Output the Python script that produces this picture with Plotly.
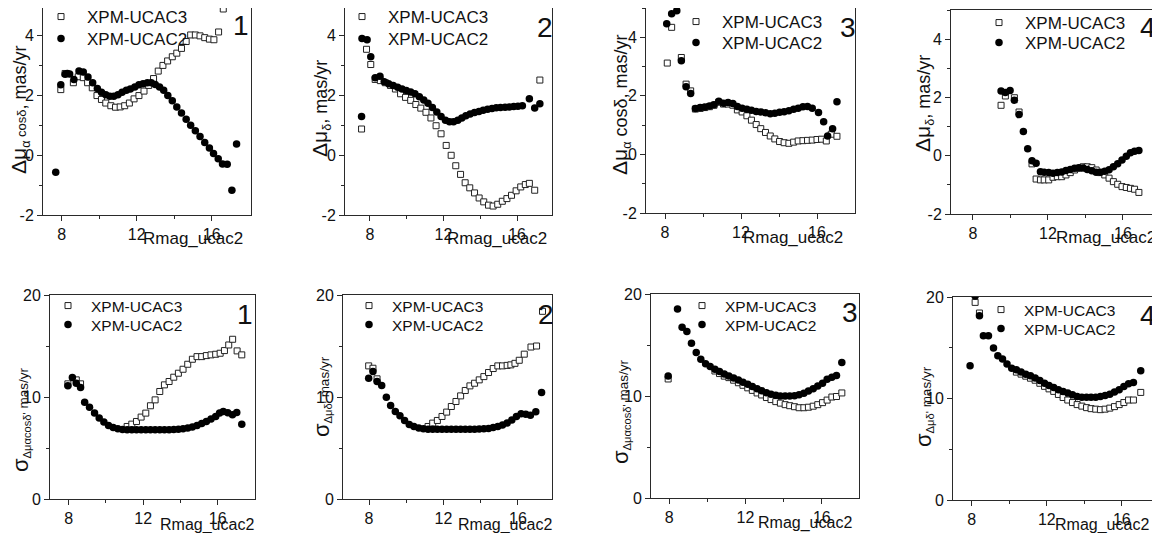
import plotly.graph_objects as go

W, H = 1160, 533          # size of the reference picture
OFF = 8                   # page margin around the plot div
FW, FH = W - OFF, H - OFF # figure size so that everything lands on the reference pixels
FONT = "Liberation Sans, Arial, sans-serif"

# ---------------- data ----------------
# panel 1: delta mu_alpha cos(delta)
p1_ucac3_x = [7.95, 8.18, 8.62, 8.88, 9.15, 9.38, 9.63, 9.88, 10.12, 10.35, 10.62, 10.87, 11.12, 11.36, 11.61,
              11.86, 12.12, 12.39, 12.64, 12.9, 13.15, 13.4, 13.65, 13.9, 14.14, 14.39, 14.64, 14.88, 15.13,
              15.38, 15.63, 15.88, 16.12, 16.37, 16.62]
p1_ucac3_y = [2.2, 2.74, 2.43, 2.63, 2.6, 2.43, 2.26, 2.0, 1.87, 1.75, 1.66, 1.61, 1.62, 1.66, 1.75,
              1.89, 2.0, 2.15, 2.34, 2.57, 2.82, 3.01, 3.16, 3.3, 3.42, 3.58, 3.81, 4.03, 4.03,
              4.0, 3.94, 3.89, 3.87, 4.13, 4.9]
p1_ucac2_x = [7.68, 7.95, 8.18, 8.3, 8.42, 8.65, 8.92, 9.15, 9.4, 9.65, 9.9, 10.12, 10.35, 10.57, 10.78,
              11.0, 11.22, 11.45, 11.66, 11.9, 12.12, 12.34, 12.57, 12.78, 12.99, 13.22, 13.44, 13.66, 13.9,
              14.14, 14.39, 14.64, 14.88, 15.13, 15.38, 15.63, 15.88, 16.1, 16.35, 16.58, 16.83, 17.08, 17.33]
p1_ucac2_y = [-0.57, 2.36, 2.71, 2.74, 2.72, 2.54, 2.82, 2.79, 2.62, 2.43, 2.24, 2.11, 2.03, 1.98, 1.98,
              2.03, 2.11, 2.18, 2.22, 2.29, 2.36, 2.4, 2.43, 2.43, 2.37, 2.29, 2.18, 2.0, 1.83,
              1.62, 1.42, 1.21, 1.01, 0.82, 0.63, 0.43, 0.24, 0.06, -0.12, -0.29, -0.3, -1.17, 0.38]

# panel 2: delta mu_delta
p2_ucac3_x = [7.55, 7.82, 8.05, 8.29, 8.57, 8.84, 9.12, 9.39, 9.67, 9.94, 10.22, 10.5, 10.77, 11.05, 11.32,
              11.6, 11.87, 12.15, 12.42, 12.67, 12.93, 13.18, 13.43, 13.69, 13.94, 14.19, 14.45, 14.7, 14.95,
              15.2, 15.45, 15.7, 15.95, 16.2, 16.45, 16.67, 16.96, 17.24]
p2_ucac3_y = [0.88, 3.55, 3.04, 2.54, 2.5, 2.43, 2.34, 2.22, 2.06, 1.94, 1.84, 1.7, 1.58, 1.44, 1.25,
              0.99, 0.72, 0.33, 0.0, -0.35, -0.64, -0.92, -1.09, -1.26, -1.43, -1.56, -1.67, -1.7, -1.64,
              -1.54, -1.45, -1.34, -1.19, -1.06, -0.98, -0.94, -1.17, 2.52]
p2_ucac2_x = [7.55, 7.85, 8.05, 8.29, 8.55, 8.78, 9.02, 9.27, 9.51, 9.75, 9.98, 10.22, 10.45, 10.69, 10.93,
              11.16, 11.4, 11.64, 11.87, 12.11, 12.33, 12.55, 12.78, 13.0, 13.22, 13.45, 13.69, 13.93, 14.16,
              14.4, 14.64, 14.87, 15.1, 15.35, 15.58, 15.82, 16.05, 16.29, 16.67, 16.96, 17.24]
p2_ucac2_y = [1.3, 3.87, 3.3, 2.6, 2.65, 2.46, 2.4, 2.34, 2.28, 2.22, 2.17, 2.12, 2.06, 1.96, 1.85,
              1.74, 1.6, 1.45, 1.3, 1.17, 1.12, 1.12, 1.17, 1.25, 1.32, 1.38, 1.43, 1.47, 1.51,
              1.54, 1.57, 1.59, 1.6, 1.61, 1.62, 1.63, 1.64, 1.66, 1.89, 1.58, 1.73]

# panel 3: delta mu_alpha cos(delta)
p3_ucac3_x = [8.12, 8.35, 8.86, 9.11, 9.35, 9.6, 9.85, 10.09, 10.34, 10.58, 10.83, 11.08, 11.32, 11.57, 11.81,
              12.06, 12.31, 12.55, 12.8, 13.04, 13.29, 13.54, 13.78, 14.03, 14.27, 14.52, 14.77, 15.01, 15.26,
              15.5, 15.75, 16.0, 16.24, 16.49, 16.75, 17.05]
p3_ucac3_y = [3.12, 4.34, 3.31, 2.4, 2.17, 1.55, 1.57, 1.6, 1.63, 1.68, 1.78, 1.72, 1.72, 1.68, 1.52,
              1.45, 1.32, 1.17, 1.02, 0.88, 0.75, 0.63, 0.53, 0.44, 0.4, 0.38, 0.42, 0.46, 0.47,
              0.48, 0.49, 0.51, 0.52, 0.46, 0.69, 0.62]
p3_ucac2_x = [8.09, 8.35, 8.62, 8.86, 9.11, 9.35, 9.6, 9.85, 10.09, 10.34, 10.58, 10.83, 11.08, 11.32, 11.57,
              11.81, 12.06, 12.31, 12.55, 12.8, 13.04, 13.29, 13.54, 13.78, 14.03, 14.27, 14.52, 14.77, 15.01,
              15.26, 15.5, 15.75, 16.08, 16.35, 16.56, 16.82, 17.05]
p3_ucac2_y = [4.46, 4.8, 4.91, 3.2, 2.31, 2.08, 1.57, 1.6, 1.62, 1.65, 1.7, 1.82, 1.75, 1.77, 1.74,
              1.64, 1.58, 1.54, 1.51, 1.47, 1.45, 1.42, 1.39, 1.41, 1.44, 1.46, 1.49, 1.54, 1.58,
              1.63, 1.64, 1.58, 1.43, 1.12, 0.63, 0.88, 1.8]

# panel 4: delta mu_delta
p4_ucac3_x = [9.5, 9.73, 10.21, 10.46, 11.15, 11.37, 11.6, 11.8, 12.04, 12.27, 12.5, 12.73, 12.96, 13.19, 13.42,
              13.65, 13.88, 14.1, 14.34, 14.57, 14.8, 15.03, 15.26, 15.49, 15.72, 15.95, 16.18, 16.4, 16.62, 16.85]
p4_ucac3_y = [1.73, 2.05, 1.99, 1.5, -0.28, -0.8, -0.83, -0.83, -0.83, -0.74, -0.72, -0.72, -0.66, -0.58, -0.49,
              -0.43, -0.38, -0.38, -0.41, -0.49, -0.58, -0.66, -0.77, -0.89, -0.98, -1.06, -1.09, -1.12, -1.15, -1.26]
p4_ucac2_x = [9.5, 9.73, 9.98, 10.21, 10.46, 10.69, 10.92, 11.15, 11.37, 11.6, 11.8, 12.04, 12.27, 12.5, 12.73,
              12.96, 13.19, 13.42, 13.65, 13.88, 14.1, 14.34, 14.57, 14.8, 15.03, 15.26, 15.49, 15.72, 15.95,
              16.18, 16.4, 16.62, 16.85]
p4_ucac2_y = [2.22, 2.17, 2.24, 1.9, 1.41, 0.83, 0.24, -0.17, -0.26, -0.55, -0.57, -0.58, -0.6, -0.58, -0.56,
              -0.51, -0.47, -0.43, -0.41, -0.42, -0.47, -0.52, -0.57, -0.57, -0.53, -0.48, -0.38, -0.28, -0.15,
              -0.02, 0.1, 0.15, 0.18]

# panel 5: sigma of delta mu_alpha cos(delta)
p5_ucac3_x = [7.96, 8.41, 8.64, 11.14, 11.39, 11.64, 11.89, 12.14, 12.39, 12.64, 12.89, 13.14, 13.39, 13.64,
              13.89, 14.14, 14.39, 14.64, 14.89, 15.14, 15.39, 15.64, 15.89, 16.13, 16.36, 16.59, 16.8, 17.04, 17.29]
p5_ucac3_y = [11.29, 11.68, 11.29, 7.11, 7.34, 7.6, 8.03, 8.42, 9.14, 9.72, 10.54, 11.19, 11.52, 11.94,
              12.33, 12.72, 13.21, 13.7, 13.96, 13.96, 14.06, 14.13, 14.19, 14.29, 14.55, 15.1, 15.66, 14.52, 14.13]
p5_ucac2_x = [7.96, 8.2, 8.41, 8.64, 8.86, 9.12, 9.39, 9.64, 9.89, 10.14, 10.39, 10.64, 10.89, 11.14, 11.39,
              11.64, 11.89, 12.14, 12.39, 12.64, 12.89, 13.14, 13.39, 13.64, 13.89, 14.14, 14.39, 14.64, 14.89,
              15.14, 15.39, 15.64, 15.89, 16.1, 16.3, 16.54, 16.79, 17.02, 17.29]
p5_ucac2_y = [11.1, 11.9, 11.35, 10.93, 9.49, 9.0, 8.42, 7.93, 7.54, 7.21, 7.01, 6.88, 6.82, 6.79, 6.78,
              6.78, 6.78, 6.78, 6.78, 6.78, 6.78, 6.79, 6.8, 6.82, 6.85, 6.88, 6.95, 7.05, 7.2,
              7.4, 7.6, 7.85, 8.1, 8.42, 8.58, 8.45, 8.25, 8.48, 7.34]

# panel 6: sigma of delta mu_delta
p6_ucac3_x = [7.98, 8.21, 8.43, 11.17, 11.42, 11.67, 11.92, 12.17, 12.42, 12.67, 12.92, 13.17, 13.42, 13.67,
              13.92, 14.17, 14.42, 14.67, 14.92, 15.17, 15.42, 15.62, 15.84, 16.07, 16.34, 16.7, 17.0, 17.32]
p6_ucac3_y = [13.05, 12.82, 11.78, 7.11, 7.44, 7.7, 8.09, 8.52, 9.07, 9.56, 10.11, 10.64, 11.09, 11.35,
              11.68, 12.0, 12.4, 12.79, 13.05, 13.05, 13.1, 13.15, 13.3, 13.6, 14.2, 14.9, 15.0, 18.4]
p6_ucac2_x = [7.98, 8.21, 8.43, 8.68, 8.93, 9.16, 9.41, 9.66, 9.91, 10.16, 10.41, 10.67, 10.92, 11.17, 11.42,
              11.67, 11.92, 12.17, 12.42, 12.67, 12.92, 13.17, 13.42, 13.67, 13.92, 14.17, 14.42, 14.67, 14.92,
              15.17, 15.42, 15.67, 15.92, 16.17, 16.42, 16.67, 16.96, 17.27]
p6_ucac2_y = [11.84, 12.5, 11.52, 11.13, 9.98, 9.17, 8.58, 8.16, 7.7, 7.31, 7.11, 6.95, 6.88, 6.85, 6.85,
              6.85, 6.85, 6.85, 6.85, 6.85, 6.85, 6.85, 6.85, 6.85, 6.86, 6.88, 6.92, 7.0, 7.1,
              7.25, 7.45, 7.75, 8.1, 8.35, 8.3, 8.2, 8.55, 10.45]

# panel 7: sigma of delta mu_alpha cos(delta)
p7_ucac3_x = [7.95, 10.4, 10.64, 10.89, 11.13, 11.38, 11.63, 11.87, 12.12, 12.36, 12.61, 12.85, 13.1, 13.34,
              13.59, 13.83, 14.08, 14.32, 14.57, 14.81, 15.06, 15.3, 15.55, 15.79, 16.04, 16.28, 16.53, 16.77, 17.05]
p7_ucac3_y = [11.67, 12.45, 12.2, 11.95, 11.8, 11.55, 11.3, 11.05, 10.8, 10.55, 10.3, 10.1, 9.85, 9.65,
              9.45, 9.3, 9.15, 9.05, 8.95, 8.85, 8.85, 8.9, 9.0, 9.15, 9.35, 9.6, 9.9, 9.95, 10.3]
p7_ucac2_x = [7.95, 8.44, 8.68, 8.93, 9.17, 9.42, 9.66, 9.91, 10.15, 10.4, 10.64, 10.89, 11.13, 11.38, 11.63,
              11.87, 12.12, 12.36, 12.61, 12.85, 13.1, 13.34, 13.59, 13.83, 14.08, 14.32, 14.57, 14.81, 15.06,
              15.3, 15.55, 15.79, 16.04, 16.28, 16.53, 16.77, 17.05]
p7_ucac2_y = [11.97, 18.52, 16.75, 16.33, 15.18, 14.26, 13.61, 13.15, 12.89, 12.62, 12.39, 12.16, 11.97, 11.77, 11.57,
              11.34, 11.15, 10.92, 10.72, 10.52, 10.33, 10.16, 10.07, 10.0, 10.0, 10.0, 10.03, 10.13, 10.26,
              10.49, 10.72, 10.98, 11.25, 11.64, 11.85, 12.0, 13.28]

# panel 8: sigma of delta mu_delta
p8_ucac3_x = [8.18, 8.41, 10.38, 10.63, 10.88, 11.13, 11.38, 11.63, 11.88, 12.12, 12.37, 12.62, 12.87, 13.12,
              13.37, 13.62, 13.87, 14.12, 14.36, 14.61, 14.86, 15.11, 15.36, 15.61, 15.86, 16.11, 16.36, 16.62, 17.01]
p8_ucac3_y = [19.47, 18.42, 12.6, 12.4, 12.2, 12.0, 11.8, 11.5, 11.2, 10.95, 10.7, 10.4, 10.1, 9.85,
              9.6, 9.4, 9.25, 9.1, 9.0, 8.95, 8.9, 8.95, 9.05, 9.2, 9.4, 9.6, 9.85, 9.85, 10.6]
p8_ucac2_x = [7.91, 8.18, 8.41, 8.62, 8.89, 9.16, 9.39, 9.64, 9.88, 10.13, 10.38, 10.63, 10.88, 11.13, 11.38,
              11.63, 11.88, 12.12, 12.37, 12.62, 12.87, 13.12, 13.37, 13.62, 13.87, 14.12, 14.36, 14.61, 14.86,
              15.11, 15.36, 15.61, 15.86, 16.11, 16.36, 16.62, 17.01]
p8_ucac2_y = [13.22, 20.1, 18.16, 16.18, 16.18, 14.97, 14.21, 13.88, 13.39, 12.99, 12.83, 12.6, 12.4, 12.24, 12.01,
              11.78, 11.51, 11.28, 11.09, 10.86, 10.69, 10.53, 10.36, 10.2, 10.13, 10.13, 10.13, 10.13, 10.2,
              10.3, 10.43, 10.63, 10.86, 11.18, 11.45, 11.58, 12.73]

series_names = ["XPM-UCAC3", "XPM-UCAC2"]
x_ticks = [8, 12, 16]
x_minor = [10, 14]
top_y_ticks = [-2, 0, 2, 4]
top_y_text = ["-2", "0", "2", "4"]
top_y_minor = [-1, 1, 3, 5]
bot_y_ticks = [0, 10, 20]
bot_y_text = ["0", "10", "20"]
bot_y_minor = [5, 15]

DMU = "<span style='font-size:21px'>Δμ</span>"
SIG = "<span style='font-size:22px'>σ</span>"
MY = "<span style='font-size:13.5px'> mas/yr</span>"
titles = [
    DMU + "<sub>α</sub><span style='font-size:13px'> cosδ</span>, mas/yr",
    DMU + "<sub>δ</sub>, mas/yr",
    DMU + "<sub>α</sub> cosδ, mas/yr",
    DMU + "<sub>δ</sub>, mas/yr",
    SIG + "<sub>Δμαcosδ'</sub>" + MY,
    SIG + "<sub>Δμδ'</sub>" + MY,
    SIG + "<sub>Δμαcosδ'</sub>" + MY,
    SIG + "<sub>Δμδ'</sub>" + MY,
]
panel_labels = ["1", "2", "3", "4", "1", "2", "3", "4"]

series = [
    (p1_ucac3_x, p1_ucac3_y, p1_ucac2_x, p1_ucac2_y),
    (p2_ucac3_x, p2_ucac3_y, p2_ucac2_x, p2_ucac2_y),
    (p3_ucac3_x, p3_ucac3_y, p3_ucac2_x, p3_ucac2_y),
    (p4_ucac3_x, p4_ucac3_y, p4_ucac2_x, p4_ucac2_y),
    (p5_ucac3_x, p5_ucac3_y, p5_ucac2_x, p5_ucac2_y),
    (p6_ucac3_x, p6_ucac3_y, p6_ucac2_x, p6_ucac2_y),
    (p7_ucac3_x, p7_ucac3_y, p7_ucac2_x, p7_ucac2_y),
    (p8_ucac3_x, p8_ucac3_y, p8_ucac2_x, p8_ucac2_y),
]

# ---------------- layout of the eight frames (reference pixels) ----------------
# box: left, right, top, bottom ; xr / yr : axis ranges
# ytitle: centre of rotated y title ; xtitle: right end / centre y of "Rmag_ucac2"
# num: right end / centre y of panel number ; leg: text start x / centre y of both rows
frames = [
    dict(box=(43, 251, 6, 215), xr=[7.0, 18.1], yr=[-2, 5], ytitle=(20, 110), xtitle=(245, 238),
         num=(251, 25), leg=(87, 17, 39)),
    dict(box=(345, 552, 6, 215), xr=[6.65, 17.9], yr=[-2, 5], ytitle=(321, 109), xtitle=(549, 239),
         num=(555, 27), leg=(388, 17, 39)),
    dict(box=(646, 855, 8, 213), xr=[7.0, 18.0], yr=[-2, 5], ytitle=(621, 105), xtitle=(845, 237),
         num=(858, 27), leg=(722, 22, 43)),
    dict(box=(951, 1158, 10, 214), xr=[6.83, 17.87], yr=[-2, 5], ytitle=(924, 104), xtitle=(1158, 237),
         num=(1158, 28), leg=(1025, 23, 43)),
    dict(box=(50, 255, 295, 499), xr=[7.0, 18.0], yr=[0, 20], ytitle=(20, 420), xtitle=(256, 525),
         num=(255, 314), leg=(91, 306, 325)),
    dict(box=(343, 552, 295, 499), xr=[6.6, 17.83], yr=[0, 20], ytitle=(321, 397), xtitle=(554, 525),
         num=(556, 314), leg=(392, 306, 325)),
    dict(box=(651, 859, 294, 498), xr=[7.05, 17.95], yr=[0, 20], ytitle=(620, 412), xtitle=(854, 523),
         num=(860, 312), leg=(725, 306, 325)),
    dict(box=(953, 1158, 297, 500), xr=[7.0, 17.93], yr=[0, 20], ytitle=(923, 407), xtitle=(1151, 525),
         num=(1158, 315), leg=(1024, 310, 329)),
]


def fx(p):
    return min(max((p - OFF) / FW, 0), 1)


def fy(p):
    return min(max(1 - (p - OFF) / FH, 0), 1)


AXIS_COLOR = "#2a2a2a"
TXT = "#111111"
fig = go.Figure()
annotations = []
layout = {}

for i, (fr, (ux3, uy3, ux2, uy2)) in enumerate(zip(frames, series), start=1):
    sfx = "" if i == 1 else str(i)
    top = i <= 4
    leg_a = "legend" if i == 1 else "legend%d" % (2 * i - 1)
    leg_b = "legend%d" % (2 * i)

    fig.add_trace(go.Scatter(
        x=ux3, y=uy3, mode="markers", name=series_names[0],
        marker=dict(symbol="square", size=6, color="white", line=dict(color="#222222", width=1)),
        xaxis="x" + sfx, yaxis="y" + sfx, legend=leg_a, showlegend=True))
    fig.add_trace(go.Scatter(
        x=ux2, y=uy2, mode="markers", name=series_names[1],
        marker=dict(symbol="circle", size=7.5, color="black", line=dict(width=0)),
        xaxis="x" + sfx, yaxis="y" + sfx, legend=leg_b, showlegend=True))

    l, r, t, b = fr["box"]
    y0, y1 = fr["yr"]
    # the page margin hides the top few pixels: keep the scale, trim the range
    t_in = max(t, OFF)
    yr = [y0, y0 + (y1 - y0) * (b - t_in) / (b - t)]
    common = dict(
        showgrid=False, zeroline=False, showline=True, linecolor=AXIS_COLOR, linewidth=1,
        mirror=True, ticks="outside", ticklen=5, tickwidth=1, tickcolor=AXIS_COLOR,
        automargin=False, tickfont=dict(size=16, color=TXT, family=FONT),
    )
    yt = top_y_ticks if top else bot_y_ticks
    ym = top_y_minor if top else bot_y_minor
    layout["xaxis" + sfx] = dict(
        common, domain=[fx(l), fx(r)], anchor="y" + sfx, range=fr["xr"],
        tickmode="array", tickvals=x_ticks,
        minor=dict(tickvals=x_minor, ticks="outside", ticklen=3, tickcolor=AXIS_COLOR),
    )
    layout["yaxis" + sfx] = dict(
        common, domain=[fy(b), fy(t_in)], anchor="x" + sfx, range=yr,
        tickmode="array", tickvals=yt, ticktext=top_y_text if top else bot_y_text,
        minor=dict(tickvals=ym, ticks="outside", ticklen=3, tickcolor=AXIS_COLOR),
    )
    # inward ticks along the top and right edges of the frame
    layout["xaxis%d" % (i + 8)] = dict(
        overlaying="x" + sfx, anchor="y" + sfx, side="top", range=fr["xr"],
        showgrid=False, zeroline=False, showline=False, showticklabels=False, automargin=False,
        ticks="inside", ticklen=5, tickcolor=AXIS_COLOR, tickmode="array", tickvals=x_ticks,
        minor=dict(tickvals=x_minor, ticks="inside", ticklen=3, tickcolor=AXIS_COLOR),
    )
    layout["yaxis%d" % (i + 8)] = dict(
        overlaying="y" + sfx, anchor="x" + sfx, side="right", range=yr,
        showgrid=False, zeroline=False, showline=False, showticklabels=False, automargin=False,
        ticks="inside", ticklen=5, tickcolor=AXIS_COLOR, tickmode="array", tickvals=yt,
        minor=dict(tickvals=ym, ticks="inside", ticklen=3, tickcolor=AXIS_COLOR),
    )

    tx, ty1, ty2 = fr["leg"]
    lsize = 17 if top else 15.5
    iw = 42 if top else 36          # symbol-to-text gap of the original legends
    for name, ty in ((leg_a, ty1), (leg_b, ty2)):
        layout[name] = dict(
            x=fx(tx - iw - 10), y=fy(ty), xanchor="left", yanchor="middle",
            bgcolor="rgba(0,0,0,0)", borderwidth=0, tracegroupgap=0, itemwidth=iw,
            font=dict(size=lsize, color=TXT, family=FONT),
        )

    cx, cy = fr["ytitle"]
    annotations.append(dict(
        text=titles[i - 1], x=fx(cx), y=fy(cy), xref="paper", yref="paper",
        xanchor="center", yanchor="middle", textangle=-90, showarrow=False,
        font=dict(size=18 if top else 16, color=TXT, family=FONT)))
    rx, ry = fr["xtitle"]
    annotations.append(dict(
        text="Rmag_ucac2", x=fx(rx), y=fy(ry), xref="paper", yref="paper",
        xanchor="right", yanchor="middle", showarrow=False,
        font=dict(size=17 if top else 16, color=TXT, family=FONT)))
    nx, ny = fr["num"]
    annotations.append(dict(
        text=panel_labels[i - 1], x=fx(nx), y=fy(ny), xref="paper", yref="paper",
        xanchor="right", yanchor="middle", showarrow=False,
        font=dict(size=28, color=TXT, family=FONT)))

fig.update_layout(
    width=FW, height=FH,
    margin=dict(l=0, r=0, t=0, b=0, autoexpand=False),
    paper_bgcolor="white", plot_bgcolor="white",
    font=dict(family=FONT, color=TXT),
    showlegend=True,
    annotations=annotations,
    **layout,
)

fig.write_html("out.html")
